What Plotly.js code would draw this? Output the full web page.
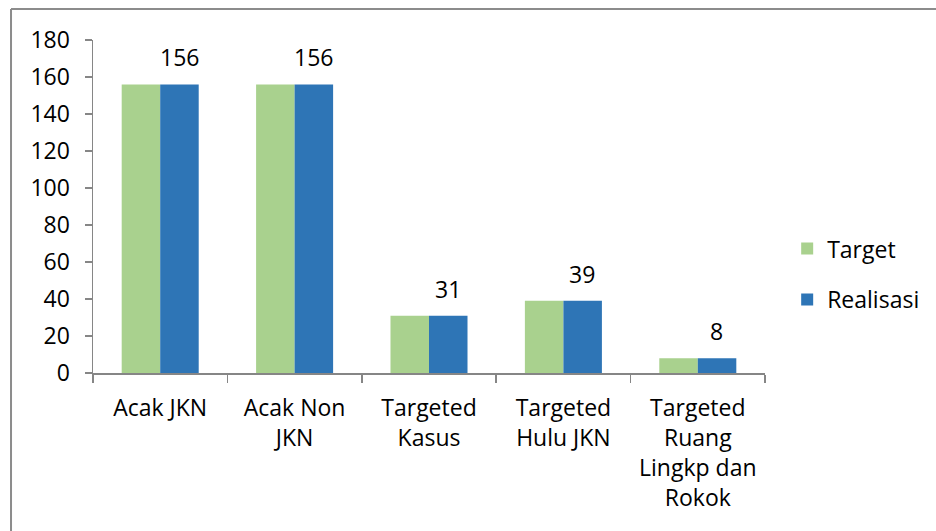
<!DOCTYPE html>
<html>
<head>
<meta charset="utf-8">
<script src="https://cdn.plot.ly/plotly-3.0.1.min.js"></script>
<style>html,body{margin:0;padding:0;background:#fff;}#chart{width:936px;height:531px;}</style>
</head>
<body>
<div id="chart"></div>
<script>
const categories = ["Acak JKN", "Acak Non<br>JKN", "Targeted<br>Kasus", "Targeted<br>Hulu JKN", "Targeted<br>Ruang<br>Lingkp dan<br>Rokok"];
const targetValues = [156, 156, 31, 39, 8];
const realisasiValues = [156, 156, 31, 39, 8];
const yTickValues = [0, 20, 40, 60, 80, 100, 120, 140, 160, 180];

const FONT = "Open Sans, Noto Sans, sans-serif";
const FS = 23;
const AXIS_COLOR = "#868686";

const traces = [
  {
    type: "bar", name: "Target", x: categories, y: targetValues,
    marker: {color: "#A9D18E"}, legendgroup: "a", hoverinfo: "skip"
  },
  {
    type: "bar", name: "Realisasi", x: categories, y: realisasiValues,
    marker: {color: "#2E75B6"}, legendgroup: "b", hoverinfo: "skip"
  }
];

// data labels above the Realisasi bars (built from the data arrays)
const labelAnnotations = categories.map((c, i) => ({
  x: c, y: realisasiValues[i], xref: "x", yref: "y",
  text: String(realisasiValues[i]), showarrow: false,
  xanchor: "center", yanchor: "bottom", xshift: 19, yshift: 9,
  font: {family: FONT, size: FS, color: "#000"}
}));

const layout = {
  width: 936, height: 531,
  margin: {l: 93, r: 171, t: 40, b: 158, autoexpand: false},
  paper_bgcolor: "#fff", plot_bgcolor: "#fff",
  barmode: "group", bargap: 0.427, bargroupgap: 0,
  font: {family: FONT, size: FS, color: "#000"},
  showlegend: true,
  legend: {
    x: 1.033, xanchor: "left", y: 0.297, yanchor: "middle",
    font: {family: FONT, size: FS, color: "#000"},
    traceorder: "grouped", tracegroupgap: 18, itemwidth: 30
  },
  xaxis: {
    type: "category", showgrid: false, zeroline: false,
    showline: true, linecolor: AXIS_COLOR, linewidth: 1.5,
    ticks: "outside", tickson: "boundaries", ticklen: 8, tickcolor: AXIS_COLOR, tickwidth: 1.5,
    tickfont: {family: FONT, size: FS, color: "#000"}, tickangle: 0,
    ticklabelstandoff: 14, fixedrange: true
  },
  yaxis: {
    range: [0, 180], tickvals: yTickValues, ticktext: yTickValues.map(String),
    showgrid: false, zeroline: false,
    showline: true, linecolor: AXIS_COLOR, linewidth: 1.5,
    ticks: "outside", ticklen: 7, tickcolor: AXIS_COLOR, tickwidth: 1.5,
    tickfont: {family: FONT, size: FS, color: "#000"},
    ticklabelstandoff: 10, fixedrange: true
  },
  annotations: labelAnnotations,
  shapes: [
    {type: "line", xref: "paper", yref: "paper", x0: -0.122, x1: -0.122, y0: 1.093, y1: -1,
     line: {color: "#8c8c8c", width: 2}},
    {type: "line", xref: "paper", yref: "paper", x0: -0.122, x1: 2, y0: 1.093, y1: 1.093,
     line: {color: "#8c8c8c", width: 2}}
  ]
};

Plotly.newPlot("chart", traces, layout, {displayModeBar: false, staticPlot: true});
</script>
</body>
</html>
